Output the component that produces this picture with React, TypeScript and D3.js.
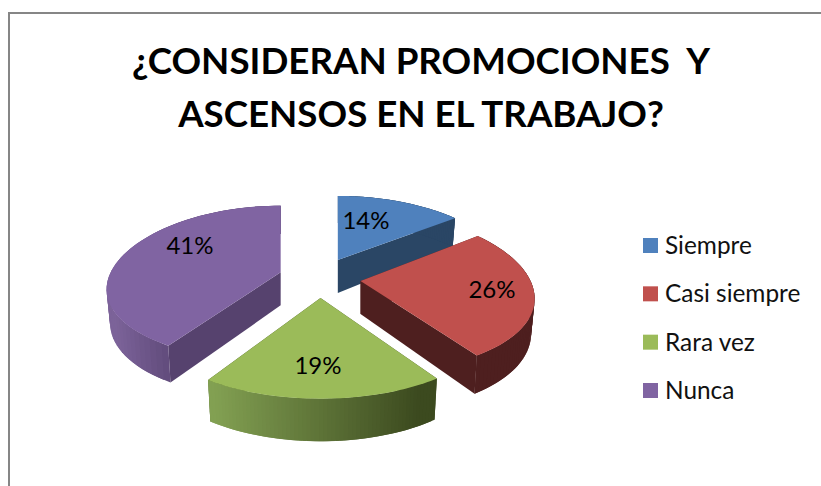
import React from "react";
import * as d3 from "d3";

const categories = ["Siempre", "Casi siempre", "Rara vez", "Nunca"];
const values = [14.3, 26.2, 18.6, 40.9];
const titleLines = ["¿CONSIDERAN PROMOCIONES  Y", "ASCENSOS EN EL TRABAJO?"];
const topColors = ["#4f81bd", "#c0504d", "#9bbb59", "#8064a2"];
const wallColors = ["#2a4665", "#4e1f1f", "#3e4c21", "#56426e"];
const rimFrom = ["#2a4665", "#4e1f1f", "#82a052", "#7c6399"];
const rimTo = ["#2a4665", "#4e1f1f", "#3c4a1f", "#5f4a7a"];
const rimSpan = [[-1, 1], [-1, 1], [-105, 100], [-165, -105]];
const labelPos = [[366, 221], [492, 290], [318, 366], [190, 246]];
const paintOrder = [0, 3, 1, 2];

const FONT = "Lato, Carlito, Calibri, sans-serif";
const CX = 320, CY = 278, EX = 41, EY = 20;
const R = 170, H = 78, PX = 0.216, PY = 0.15, K = 0.5, DEPTH = 33, BOTTOM = 0.98;

type Pt = [number, number];

function disc(theta: number, mid: number) {
  const X = Math.sin(theta), Z = Math.cos(theta);
  const sx = 1 / (1 + PX * Z);
  const s = 1 / (1 + PY * (Z + K * Math.cos(mid)));
  return { dx: R * X * sx, dy: -H * Z * s, s };
}
function topPoint(apex: Pt, theta: number, mid: number): Pt {
  const d = disc(theta, mid);
  return [apex[0] + d.dx, apex[1] + d.dy];
}
function botPoint(apex: Pt, theta: number, mid: number): Pt {
  const d = disc(theta, mid);
  return [apex[0] + d.dx * BOTTOM, apex[1] + d.dy + DEPTH * d.s];
}

const poly = d3.line<Pt>();

export default function App() {
  const arcs = d3.pie<number>().sort(null)(values);
  const slices = arcs.map((a, i) => {
    const mid = (a.startAngle + a.endAngle) / 2;
    const apex: Pt = [CX + EX * Math.sin(mid), CY - EY * Math.cos(mid)];
    const steps = d3.range(0, 61).map((k) => a.startAngle + ((a.endAngle - a.startAngle) * k) / 60);
    return { i, apex, steps, a, mid };
  });
  const legendY = d3.scalePoint<string>().domain(categories).range([245.5, 390.5]);

  return (
    <svg width={821} height={486} style={{ position: "absolute", left: 0, top: 0, display: "block", background: "#fff" }}>
      <rect x={9} y={13} width={830} height={500} fill="none" stroke="#868686" strokeWidth={2} />
      {titleLines.map((t, i) => (
        <text key={t} x={421} y={74 + i * 53} textAnchor="middle" fontFamily={FONT} fontWeight={700} fontSize={36.7} fill="#000" style={{ whiteSpace: "pre" }} xmlSpace="preserve">
          {t}
        </text>
      ))}
      {paintOrder.map((idx) => {
        const { i, apex, steps, a, mid } = slices[idx];
        const color = d3.scaleLinear<string>().domain(rimSpan[i]).range([rimFrom[i], rimTo[i]]).clamp(true);
        const wall = (th: number) =>
          poly([apex, topPoint(apex, th, mid), botPoint(apex, th, mid), [apex[0], apex[1] + DEPTH]])!;
        return (
          <g key={categories[i]}>
            <path d={wall(a.startAngle)} fill={wallColors[i]} />
            <path d={wall(a.endAngle)} fill={wallColors[i]} />
            {steps.slice(0, -1).map((th, k) => {
              const next = steps[Math.min(k + 2, steps.length - 1)];
              const f = color(disc(th, mid).dx);
              return (
                <path
                  key={k}
                  d={poly([topPoint(apex, th, mid), topPoint(apex, next, mid), botPoint(apex, next, mid), botPoint(apex, th, mid)])!}
                  fill={f}
                />
              );
            })}
            <path d={poly([apex, ...steps.map((th) => topPoint(apex, th, mid))])! + "Z"} fill={topColors[i]} />
          </g>
        );
      })}
      {values.map((v, i) => (
        <text key={categories[i]} x={labelPos[i][0]} y={labelPos[i][1]} dy="0.35em" textAnchor="middle" fontFamily={FONT} fontSize={24} fill="#000">
          {`${Math.round(v)}%`}
        </text>
      ))}
      {categories.map((c, i) => (
        <g key={c}>
          <rect x={643} y={legendY(c)! - 7.5} width={15} height={15} fill={topColors[i]} />
          <text x={665} y={legendY(c)!} dy="0.35em" fontFamily={FONT} fontSize={24.4} fill="#111">
            {c}
          </text>
        </g>
      ))}
    </svg>
  );
}
